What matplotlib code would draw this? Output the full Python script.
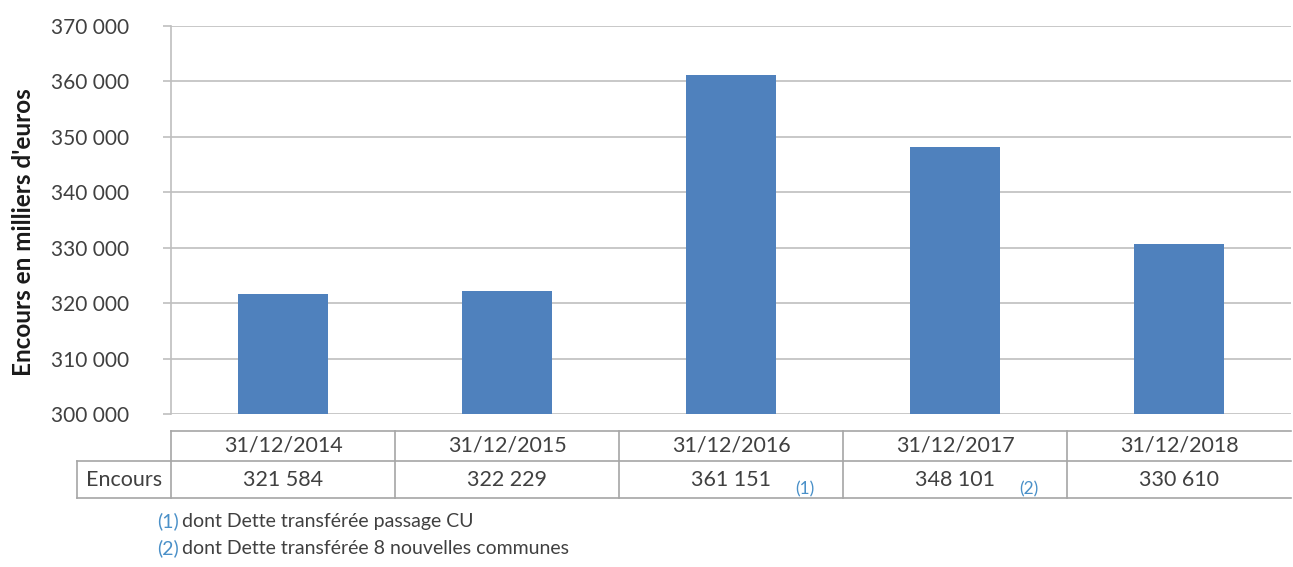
import matplotlib.pyplot as plt
from matplotlib.ticker import FuncFormatter

# Encours de la dette au 31/12 (milliers d'euros)
dates = ['31/12/2014', '31/12/2015', '31/12/2016', '31/12/2017', '31/12/2018']
encours = [321584, 322229, 361151, 348101, 330610]
renvois = {2: '(1)', 3: '(2)'}
notes = ['dont Dette transférée passage CU',
         'dont Dette transférée 8 nouvelles communes']

plt.rcParams['font.family'] = ['Lato', 'DejaVu Sans']
bar_color = '#4f81bd'
grid_color = '#bfbfbf'
text_color = '#404040'
note_color = '#4a90c8'

W, H = 1293, 567
fig = plt.figure(figsize=(W / 100, H / 100), dpi=100)
ax = fig.add_axes([171 / W, 1 - 414 / H, (1291 - 171) / W, (414 - 26) / H])

x = list(range(len(dates)))
ax.bar(x, encours, width=0.4, color=bar_color, zorder=3)
ax.set_xlim(-0.5, len(dates) - 0.5)
ax.set_ylim(300000, 370000)
ax.set_yticks(range(300000, 370001, 10000))
ax.yaxis.set_major_formatter(FuncFormatter(lambda v, p: f'{int(v):,}'.replace(',', ' ')))
ax.grid(axis='y', color=grid_color, linewidth=1.2, zorder=0)
ax.set_xticks([])
ax.tick_params(axis='y', length=6, width=1.2, color=grid_color, pad=24,
               labelsize=15, labelcolor=text_color)
for s in ['top', 'right', 'bottom']:
    ax.spines[s].set_visible(False)
ax.spines['left'].set_color(grid_color)
ax.spines['left'].set_linewidth(1.2)

fig.text(24 / W, 1 - 232 / H, "Encours en milliers d'euros", rotation=90,
         ha='center', va='center', fontsize=17.5, fontweight='bold', color='#1a1a1a')

# Tableau de données sous le graphique (pixels -> coordonnées axes)
def ya(py):
    return (414 - py) / 388

def xa(px):
    return (px - 171) / 1120

line_kw = dict(color='#a6a6a6', linewidth=1.2, clip_on=False, transform=ax.transAxes)
y_top, y_mid, y_bot = ya(431), ya(461), ya(498)
ax.plot([0, 1], [y_top, y_top], **line_kw)
ax.plot([xa(77), 1], [y_mid, y_mid], **line_kw)
ax.plot([xa(77), 1], [y_bot, y_bot], **line_kw)
ax.plot([xa(77), xa(77)], [y_mid, y_bot], **line_kw)
for i in range(len(dates)):
    xl = i / len(dates)
    ax.plot([xl, xl], [y_top, y_bot], **line_kw)

for i, (d, v) in enumerate(zip(dates, encours)):
    xc = (i + 0.5) / len(dates)
    ax.text(xc, (y_top + y_mid) / 2, d, transform=ax.transAxes, ha='center',
            va='center', fontsize=15.5, color=text_color)
    ax.text(xc, (y_mid + y_bot) / 2, f'{v:,}'.replace(',', ' '), transform=ax.transAxes,
            ha='center', va='center', fontsize=15.5, color=text_color)
    if i in renvois:
        ax.text(xc + 0.066, ya(489), renvois[i], transform=ax.transAxes,
                ha='center', va='center', fontsize=12.5, color=note_color)
ax.text(xa(77) / 2, (y_mid + y_bot) / 2, 'Encours', transform=ax.transAxes,
        ha='center', va='center', fontsize=15.5, color=text_color)

# Renvois
for k, (n, py) in enumerate(zip(notes, [521, 548])):
    fig.text(157 / W, 1 - py / H, f'({k + 1})', ha='left', va='center',
             fontsize=14, color=note_color)
    fig.text(182 / W, 1 - py / H, n, ha='left', va='center', fontsize=14, color=text_color)

fig.savefig('out.png', dpi=100)
